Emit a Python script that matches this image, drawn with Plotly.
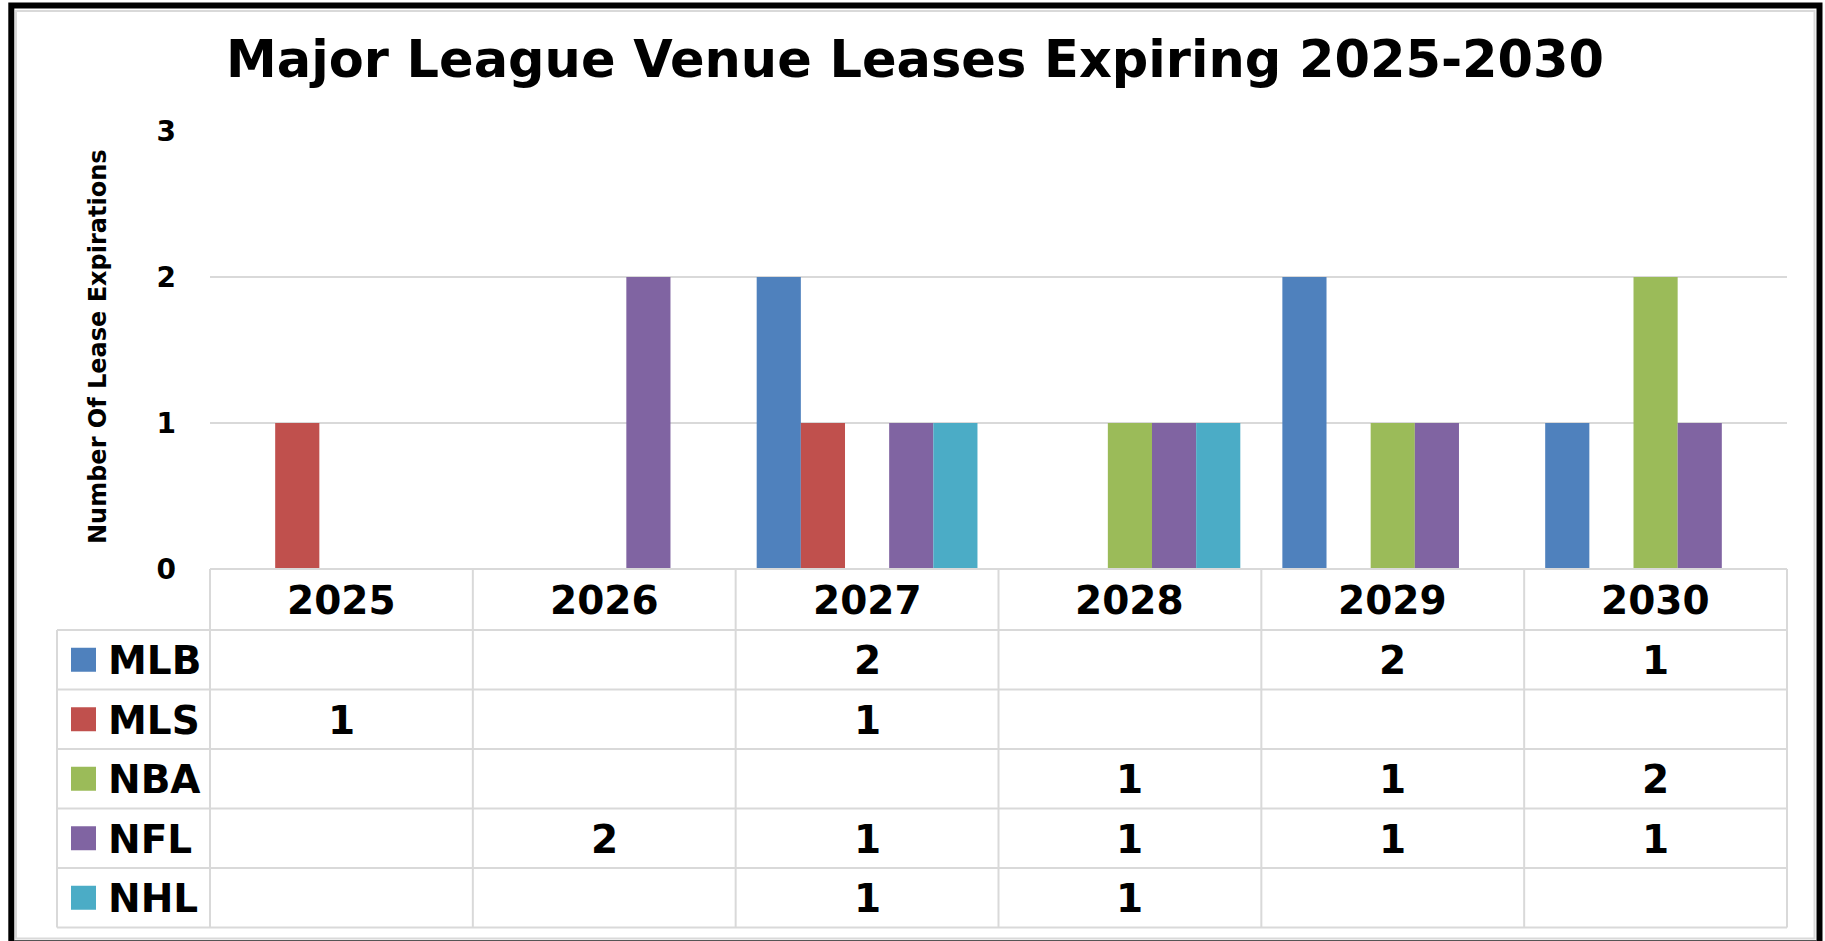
import plotly.graph_objects as go

# ---------------- data ----------------
years = ["2025", "2026", "2027", "2028", "2029", "2030"]
leagues = ["MLB", "MLS", "NBA", "NFL", "NHL"]
mlb = [None, None, 2, None, 2, 1]
mls = [1, None, 1, None, None, None]
nba = [None, None, None, 1, 1, 2]
nfl = [None, 2, 1, 1, 1, 1]
nhl = [None, None, 1, 1, None, None]
colors = ["#4F81BD", "#C0504D", "#9BBB59", "#8064A2", "#4BACC6"]
y_ticks = [0, 1, 2, 3]
title_text = "Major League Venue Leases Expiring 2025-2030"
y_title = "Number Of Lease Expirations"

series = [mlb, mls, nba, nfl, nhl]

# ---------------- layout geometry (pixels) ----------------
W, H = 1825, 941
L, R, T, B = 210, 38, 131, 372
PW = W - L - R
PH = H - T - B
FONT = "'DejaVu Sans', Lato, sans-serif"
WT = "bold"
GRID = "#d9d9d9"


def px_x(X):
    return (X - L) / PW


def px_y(Y):
    return (H - B - Y) / PH


def fnt(size):
    return dict(family=FONT, size=size, color="black", weight=WT)


fig = go.Figure()
for name, vals, col in zip(leagues, series, colors):
    fig.add_trace(go.Bar(
        name=name, x=years, y=vals, marker=dict(color=col, line=dict(width=0)),
        showlegend=False, hoverinfo="x+y+name",
    ))

shapes = []
annotations = []

# table geometry
axis_Y = H - B            # 569
header_bot = 630
row_h = (927.5 - header_bot) / len(leagues)
table_left = 57
n = len(years)

# horizontal lines
shapes.append(dict(type="line", xref="x domain", yref="paper", x0=0, x1=1,
                   y0=px_y(axis_Y), y1=px_y(axis_Y), line=dict(color=GRID, width=2)))
for i in range(len(leagues) + 1):
    Yl = header_bot + i * row_h
    shapes.append(dict(type="line", xref="x domain", yref="paper", x0=px_x(table_left), x1=1,
                       y0=px_y(Yl), y1=px_y(Yl), line=dict(color=GRID, width=2)))
# vertical lines
for c in range(n + 1):
    shapes.append(dict(type="line", xref="x domain", yref="paper", x0=c / n, x1=c / n,
                       y0=px_y(axis_Y), y1=px_y(927.5), line=dict(color=GRID, width=2)))
shapes.append(dict(type="line", xref="x domain", yref="paper", x0=px_x(table_left), x1=px_x(table_left),
                   y0=px_y(header_bot), y1=px_y(927.5), line=dict(color=GRID, width=2)))

# year header labels (category index positions on the x axis)
for ci, yr in enumerate(years):
    annotations.append(dict(x=ci, xref="x", y=px_y((axis_Y + header_bot) / 2 + 1), yref="paper",
                            text=yr, showarrow=False, xanchor="center", yanchor="middle",
                            font=fnt(39)))

# rows: legend keys, labels, values
for r, (name, vals, col) in enumerate(zip(leagues, series, colors)):
    yc = header_bot + (r + 0.5) * row_h
    shapes.append(dict(type="rect", xref="x domain", yref="paper",
                       x0=px_x(71), x1=px_x(96), y0=px_y(yc - 12), y1=px_y(yc + 12),
                       fillcolor=col, line=dict(width=0)))
    annotations.append(dict(x=px_x(106), xref="x domain", y=px_y(yc + 1), yref="paper",
                            text=name, showarrow=False, xanchor="left", yanchor="middle",
                            font=fnt(39)))
    for ci, v in enumerate(vals):
        if v:
            annotations.append(dict(x=ci, xref="x", y=px_y(yc + 1), yref="paper",
                                    text=str(v), showarrow=False, xanchor="center",
                                    yanchor="middle", font=fnt(39)))

# y-axis title
annotations.append(dict(x=px_x(98), xref="paper", y=px_y(347), yref="paper", text=y_title,
                        textangle=-90, showarrow=False, xanchor="center", yanchor="middle",
                        font=fnt(24)))

# chart title
annotations.append(dict(x=px_x(915), xref="paper", y=px_y(59), yref="paper", text=title_text,
                        showarrow=False, xanchor="center", yanchor="middle",
                        font=fnt(51)))

# outer frame
shapes.append(dict(type="rect", xref="paper", yref="paper", x0=px_x(16), x1=px_x(1814.5),
                   y0=px_y(938.5), y1=px_y(11), line=dict(color="#d9d9d9", width=2), layer="below"))
shapes.append(dict(type="rect", xref="paper", yref="paper", x0=px_x(11.3), x1=px_x(1819.5),
                   y0=px_y(960), y1=px_y(5.5), line=dict(color="black", width=6)))
shapes.append(dict(type="line", xref="paper", yref="paper", x0=px_x(14), x1=px_x(1817),
                   y0=px_y(940.5), y1=px_y(940.5), line=dict(color="#555555", width=1)))

fig.update_layout(
    width=W, height=H,
    margin=dict(l=L, r=R, t=T, b=B, pad=0),
    paper_bgcolor="white", plot_bgcolor="white",
    barmode="group", bargap=0.16, bargroupgap=0,
    showlegend=False,
    xaxis=dict(type="category", categoryorder="array", categoryarray=years,
               range=[-0.5, len(years) - 0.5], fixedrange=True,
               showticklabels=False, showgrid=False, zeroline=False, showline=False, ticks=""),
    yaxis=dict(range=[0, 3], tickvals=y_ticks, ticktext=[str(v) for v in y_ticks], fixedrange=True,
               showgrid=True, gridcolor=GRID, gridwidth=2, zeroline=False, showline=False,
               ticks="", ticklabelstandoff=33,
               tickfont=fnt(28)),
    shapes=shapes, annotations=annotations,
    font=dict(family=FONT, color="black"),
)

fig.write_html("out.html", config={"displayModeBar": False},
               post_script="document.body.style.margin='0';document.body.style.overflow='hidden';")
